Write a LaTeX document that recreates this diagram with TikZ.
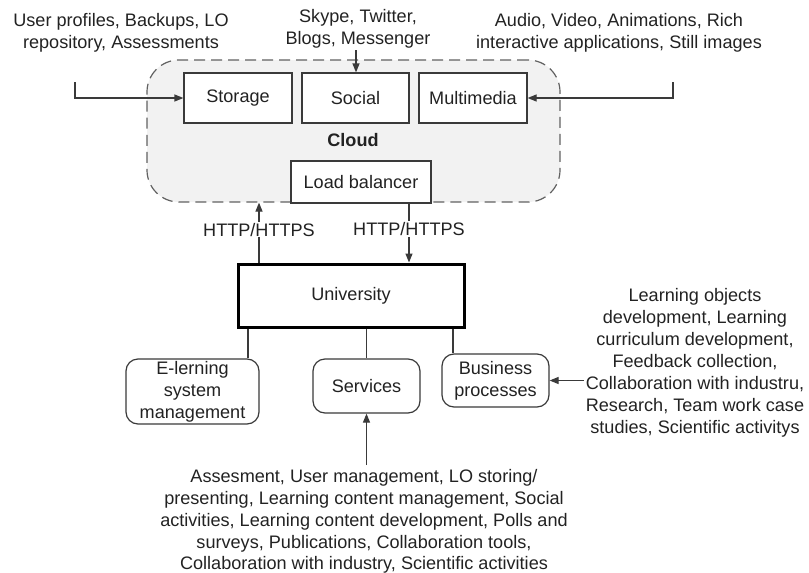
\documentclass[tikz,border=0pt]{standalone}
\usepackage{fontspec}
\setmainfont{Liberation Sans}
\usetikzlibrary{arrows.meta}
\definecolor{linec}{HTML}{3A3A3A}
\definecolor{textc}{HTML}{222222}
\definecolor{cloudfill}{HTML}{F2F2F2}
\begin{document}
\begin{tikzpicture}[x=1pt,y=-1pt,
  every node/.style={font=\fontsize{18.1}{21.9}\selectfont, inner sep=0pt, text=textc},
  sqbox/.style={draw=linec, line width=1.2pt, fill=white, minimum width=108pt, minimum height=50pt},
  rbox/.style={draw=linec, line width=1.2pt, fill=white, rounded corners=12pt, align=center},
  cloudbox/.style={draw=linec!80, line width=1.2pt, dash pattern=on 11pt off 6pt, fill=cloudfill, rounded corners=32pt, minimum width=413pt, minimum height=142pt},
  txt/.style={align=center},
  lbl/.style={fill=white, inner sep=1pt},
  conn/.style={draw=linec, line width=1.2pt},
  arr/.style={conn, -{Triangle[length=9pt,width=7pt]}}
]
\useasboundingbox (0,0) rectangle (809,573);

% Cloud
\node[cloudbox] (cloud) at (353.5,131) {};
\node[font=\fontsize{18.1}{21.9}\selectfont\bfseries] (cloudlbl) at (353,140) {Cloud};

\node[sqbox, minimum width=108pt] (storage) at (238,98) {Storage};
\node[sqbox, minimum width=107pt] (social) at (355.5,98) {Social};
\node[sqbox, minimum width=108pt] (mm) at (473,98) {Multimedia};
\node[sqbox, minimum width=140pt, minimum height=42pt] (lb) at (361,182) {Load balancer};

% University
\node[draw=black, line width=3pt, fill=white, minimum width=226pt, minimum height=63pt] (univ) at (351,295.5) {University};

\node[rbox, minimum width=133pt, minimum height=65pt] (el) at (192.5,391.5) {E-lerning\\system\\management};
\node[rbox, minimum width=107pt, minimum height=54pt] (serv) at (366.5,386) {Services};
\node[rbox, minimum width=107pt, minimum height=53pt] (bp) at (495.5,380.5) {Business\\processes};

% Texts
\node[txt] (tl) at (121,33) {User profiles, Backups, LO\\repository, Assessments};
\node[txt] (tc) at (358,29) {Skype, Twitter,\\Blogs, Messenger};
\node[txt] (tr) at (619,33) {Audio, Video, Animations, Rich\\interactive applications, Still images};
\node[txt] (bt) at (695,363) {Learning objects\\development, Learning\\curriculum development,\\Feedback collection,\\Collaboration with industru,\\Research, Team work case\\studies, Scientific activitys};
\node[txt] (st) at (364,521.5) {Assesment, User management, LO storing/\\presenting, Learning content management, Social\\activities, Learning content development, Polls and\\surveys, Publications, Collaboration tools,\\Collaboration with industry, Scientific activities};

% Connector anchors
\coordinate (sin) at (75,82);
\coordinate (socin) at (356,50);
\coordinate (mmin) at (673,82);
\coordinate (h1) at (259,0);
\coordinate (h2) at (409,0);
\coordinate (l1) at (248,0);
\coordinate (l3) at (453,0);
\coordinate (svin) at (366.5,465);
\coordinate (bpin) at (584,380.5);

\draw[arr] (sin) |- (storage.west);
\draw[arr] (socin) -- (socin |- social.north);
\draw[arr] (mmin) |- (mm.east);

\draw[arr] (h1 |- univ.north) -- node[lbl, pos=0.55] {HTTP/HTTPS} (h1 |- cloud.south);
\draw[arr] (h2 |- lb.south) -- node[lbl, pos=0.43] {HTTP/HTTPS} (h2 |- univ.north);

\draw[conn] (l1 |- univ.south) -- (l1 |- el.north);
\draw[conn] (univ.south -| serv.north) -- (serv.north);
\draw[conn] (l3 |- univ.south) -- (l3 |- bp.north);

\draw[arr] (svin) -- (serv.south);
\draw[arr] (bpin) -- (bp.east);
\end{tikzpicture}
\end{document}
